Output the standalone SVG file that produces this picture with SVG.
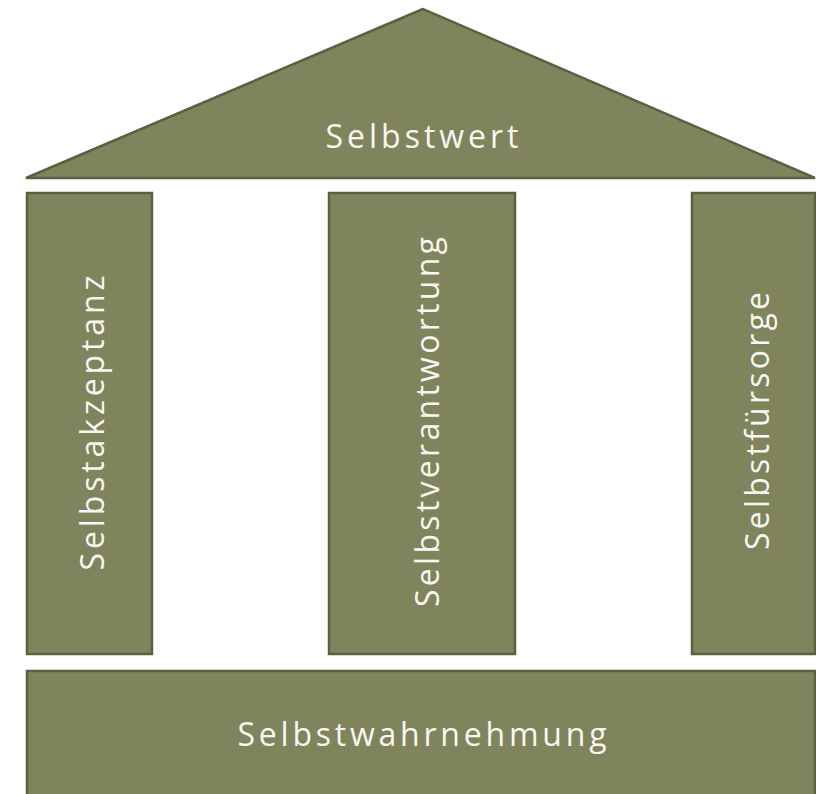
<svg xmlns="http://www.w3.org/2000/svg" width="816" height="794" viewBox="0 0 816 794">
<style>
.s{fill:#7f845c;stroke:#5b6140;stroke-width:2.5}
.t{fill:#f7f7f2;font-family:"Open Sans","DejaVu Sans",sans-serif;font-size:32px;text-anchor:middle;dominant-baseline:central}
</style>
<rect width="816" height="794" fill="#ffffff"/>
<g id="roof"><polygon class="s" points="423,9 26,178 815,178"/><text class="t" x="422" y="135" textLength="193" lengthAdjust="spacing">Selbstwert</text></g>
<g id="pillar-left"><rect class="s" x="27" y="193" width="125" height="461"/><text class="t" transform="translate(91,423) rotate(-90)" textLength="295" lengthAdjust="spacing">Selbstakzeptanz</text></g>
<g id="pillar-middle"><rect class="s" x="329" y="193" width="186" height="461"/><text class="t" transform="translate(426,422) rotate(-90)" textLength="370" lengthAdjust="spacing">Selbstverantwortung</text></g>
<g id="pillar-right"><rect class="s" x="692" y="193" width="123" height="461"/><text class="t" transform="translate(756,421) rotate(-90)" textLength="258" lengthAdjust="spacing">Selbstfürsorge</text></g>
<g id="base"><rect class="s" x="27" y="671" width="788" height="130"/><text class="t" x="422" y="733" textLength="369" lengthAdjust="spacing">Selbstwahrnehmung</text></g>
<g id="connectors"/>
</svg>
